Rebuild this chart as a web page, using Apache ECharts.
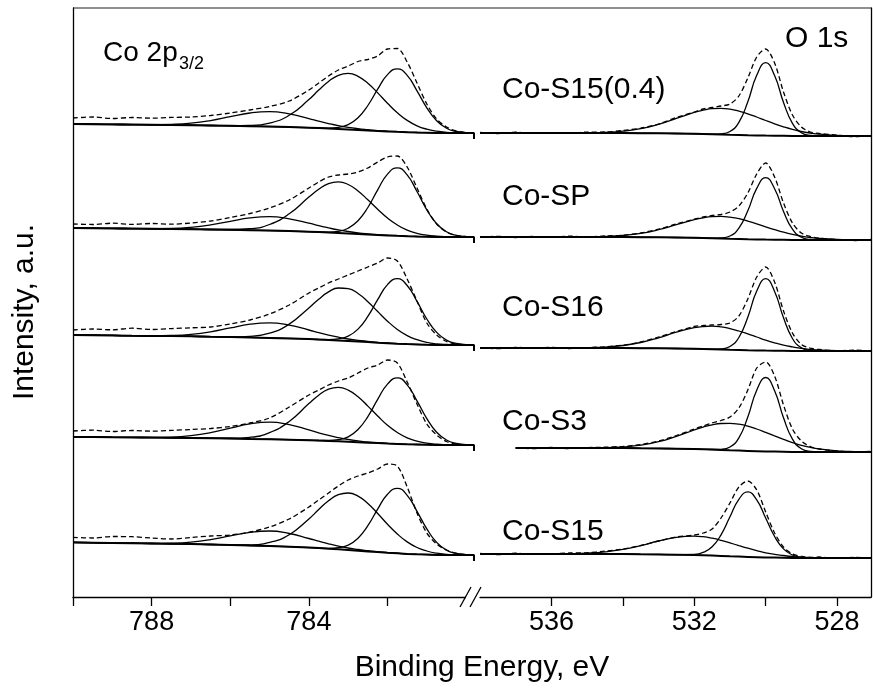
<!DOCTYPE html>
<html><head><meta charset="utf-8">
<script src="https://cdn.jsdelivr.net/npm/echarts@6/dist/echarts.min.js"></script>
<style>html,body{margin:0;padding:0;background:#fff}#c{width:873px;height:698px}</style>
</head><body><div id="c"></div>
<script>
// ---------- data ----------
const samples = ['Co-S15(0.4)', 'Co-SP', 'Co-S16', 'Co-S3', 'Co-S15'];
const coTicks = [790, 788, 786, 784, 782];
const coTickLabels = [788, 784];
const oTicks = [536, 534, 532, 530, 528];
const oTickLabels = [536, 532, 528];

// vertical offsets (intensity units) of each stacked spectrum
const coBase = [464, 360, 252, 152, 42];
const oBase = [461, 357, 246, 145, 39];
const labelY = [90, 197, 308, 422, 532];

// Co 2p3/2 binding energies
const coX = [790, 789.5, 789, 788.5, 788, 787.5, 787, 786.5, 786, 785.5, 785, 784.5, 784, 783.75, 783.5, 783.25, 783, 782.75, 782.5, 782.25, 782, 781.75, 781.5, 781.25, 781, 780.75, 780.5, 780.25, 780];
const coTailX = [779.8, 779.8];
const coTailDrop = [0, -6];

const coBg1 = [9,8.8,8.6,8.4,8.2,8,7.8,7.5,7.2,6.8,6.4,5.9,5.3,4.9,4.5,4.1,3.6,3.1,2.6,2.1,1.6,1.2,0.8,0.5,0.3,0.1,0,0,0];
const coBg2 = [9,8.8,8.6,8.4,8.2,8,7.8,7.5,7.2,6.8,6.4,5.9,5.3,4.9,4.5,4.1,3.6,3.1,2.6,2.1,1.6,1.2,0.8,0.5,0.3,0.1,0,0,0];
const coBg3 = [10,9.8,9.6,9.3,9.1,8.9,8.7,8.3,8,7.6,7.1,6.6,5.9,5.4,5,4.6,4,3.4,2.9,2.3,1.8,1.3,0.9,0.6,0.3,0.1,0,0,0];
const coBg4 = [8.1,7.9,7.7,7.6,7.4,7.2,7,6.8,6.5,6.1,5.8,5.3,4.8,4.4,4.1,3.7,3.2,2.8,2.3,1.9,1.4,1.1,0.7,0.5,0.3,0.1,0,0,0];
const coBg5 = [12.6,12.3,12,11.8,11.5,11.2,10.9,10.5,10.1,9.5,9,8.3,7.4,6.9,6.3,5.7,5,4.3,3.6,2.9,2.2,1.7,1.1,0.7,0.4,0.1,0,0,0];

const coA1 = [0,0,0,0,0,0,0,0,0,0,0,0,0,0.1,0.4,1.5,4.8,12.1,24.9,41.7,56.8,63,56.8,41.7,24.9,12.1,4.8,1.5,0.4];
const coA2 = [0,0,0,0,0,0,0,0,0,0,0,0,0,0.1,0.4,1.6,5.2,13.1,26.9,45,61.3,68,61.3,45,26.9,13.1,5.2,1.6,0.4];
const coA3 = [0,0,0,0,0,0,0,0,0,0,0,0,0,0.1,0.4,1.6,4.9,12.5,25.7,43,58.6,65,58.6,43,25.7,12.5,4.9,1.6,0.4];
const coA4 = [0,0,0,0,0,0,0,0,0,0,0,0,0,0.1,0.4,1.6,5,12.7,26.1,43.7,59.5,66,59.5,43.7,26.1,12.7,5,1.6,0.4];
const coA5 = [0,0,0,0,0,0,0,0,0,0,0,0,0,0.1,0.4,1.6,4.9,12.5,25.7,43,58.6,65,58.6,43,25.7,12.5,4.9,1.6,0.4];

const coB1 = [0,0,0,0,0,0,0,0,0.1,0.7,3.5,11.8,28.1,38,47.1,53.6,56,53.6,47.1,38,28.1,19,11.8,6.7,3.5,1.7,0.7,0.3,0.1];
const coB2 = [0,0,0,0,0,0,0,0,0.3,1.5,6.1,17.3,34.6,42.9,48.9,51,48.9,42.9,34.6,25.6,17.3,10.8,6.1,3.2,1.5,0.7,0.3,0.1,0];
const coB3 = [0,0,0,0,0,0,0,0,0.2,1.1,4.7,14.3,31.2,40.4,48.1,52.4,52.4,48.1,40.4,31.2,22,14.3,8.5,4.7,2.3,1.1,0.5,0.2,0.1];
const coB4 = [0,0,0,0,0,0,0,0,0.3,1.6,6.5,18.3,36.6,45.4,51.7,54,51.7,45.4,36.6,27.1,18.3,11.4,6.5,3.4,1.6,0.7,0.3,0.1,0];
const coB5 = [0,0,0,0,0,0,0,0,0.1,0.7,3.6,12,28.6,38.6,47.9,54.6,57,54.6,47.9,38.6,28.6,19.3,12,6.8,3.6,1.7,0.7,0.3,0.1];

const coS1 = [0,0,0,0,0.2,0.7,2,4.9,9.1,13.2,15,13.2,9.1,6.9,4.9,3.2,2,1.2,0.7,0.3,0.2,0.1,0,0,0,0,0,0,0];
const coS2 = [0,0,0,0,0.2,0.6,1.9,4.6,8.5,12.3,14,12.3,8.5,6.4,4.6,3,1.9,1.1,0.6,0.3,0.2,0.1,0,0,0,0,0,0,0];
const coS3 = [0,0,0,0,0.2,0.7,2,4.9,9.1,13.2,15,13.2,9.1,6.9,4.9,3.2,2,1.2,0.7,0.3,0.2,0.1,0,0,0,0,0,0,0];
const coS4 = [0,0,0,0,0.2,0.7,2.3,5.5,10.3,15,17,15,10.3,7.8,5.5,3.7,2.3,1.4,0.7,0.4,0.2,0.1,0,0,0,0,0,0,0];
const coS5 = [0,0,0,0,0.2,0.7,2,4.9,9.1,13.2,15,13.2,9.1,6.9,4.9,3.2,2,1.2,0.7,0.3,0.2,0.1,0,0,0,0,0,0,0];

const coE1 = [15,16,14.5,15.5,14.8,15.6,16,17.5,20,23,26.5,32,43,50,57,63,67,71.5,73.5,77,84,84.5,71,50,29,14,6,2,0.5];
const coE2 = [13,12.5,13.8,12.6,13.5,12.8,14,16,19.5,23.5,29,37,49,55,60,62,63,65,69,75,80,81,70,49,28,13,5,1.5,0.5];
const coE3 = [15,16,15.2,16.8,15.5,16.4,17.2,18,21,25,31,40,52,57,62,66,70,74,78,82,87,84,66,44,22,10,3.5,1,0.3];
const coE4 = [14,14.8,13.5,14.5,13.8,14.6,15.5,16.5,18.5,22,27,38,50,55,60,64,67,72,77,80,85,82,63,41,21,10,3.5,1,0.3];
const coE5 = [17.7,17,18.5,18.3,17,16,17.5,19,20,23,28,36,48,55,62,69,75,79,82,86,91,89,68,42,22,11,5,1.8,0.5];

// O 1s binding energies
const oX = [538, 537.5, 537, 536.5, 536, 535.5, 535, 534.5, 534, 533.5, 533, 532.5, 532, 531.75, 531.5, 531.25, 531, 530.75, 530.5, 530.25, 530, 529.75, 529.5, 529.25, 529, 528.75, 528.5, 528, 527.5, 527.05];

const oBg1 = [3,3,3,3,3,3,3,2.9,2.9,2.8,2.7,2.5,2.2,2,1.8,1.6,1.3,1.1,0.8,0.6,0.4,0.3,0.2,0.1,0,0,0,0,0,0];
const oBg2 = [3,3,3,3,3,3,3,2.9,2.9,2.8,2.7,2.5,2.2,2,1.8,1.6,1.3,1.1,0.8,0.6,0.4,0.3,0.2,0.1,0,0,0,0,0,0];
const oBg3 = [3,3,3,3,3,3,3,2.9,2.9,2.8,2.7,2.5,2.2,2,1.8,1.6,1.3,1.1,0.8,0.6,0.4,0.3,0.2,0.1,0,0,0,0,0,0];
const oBg4 = [null,null,4,4,4,4,4,3.9,3.9,3.7,3.6,3.3,2.9,2.7,2.4,2.1,1.7,1.4,1.1,0.8,0.5,0.4,0.3,0.1,0,0,0,0,0,0];
const oBg5 = [4,4,4,4,4,4,4,3.9,3.9,3.7,3.6,3.3,2.9,2.7,2.4,2.1,1.7,1.4,1.1,0.8,0.5,0.4,0.3,0.1,0,0,0,0,0,0];

const oM1 = [0,0,0,0,0,0,0,0,0,0,0,0,0,0,0.1,0.6,3.2,12.6,33.4,60.1,73,60.1,33.4,12.6,3.2,0.6,0.1,0,0,0];
const oM2 = [0,0,0,0,0,0,0,0,0,0,0,0,0,0,0.1,0.5,2.7,10.7,28.4,51,62,51,28.4,10.7,2.7,0.5,0.1,0,0,0];
const oM3 = [0,0,0,0,0,0,0,0,0,0,0,0,0,0,0.1,0.5,3.2,12.4,33,59.3,72,59.3,33,12.4,3.2,0.5,0.1,0,0,0];
const oM4 = [null,null,0,0,0,0,0,0,0,0,0,0,0,0,0.1,0.6,3.3,12.7,33.9,60.9,74,60.9,33.9,12.7,3.3,0.6,0.1,0,0,0];
const oM5 = [0,0,0,0,0,0,0,0,0,0,0,0,0.7,2.9,8.8,21.1,39.5,57.3,65,57.3,39.5,21.1,8.8,2.9,0.7,0.1,0,0,0,0];

const oH1 = [0,0,0,0,0,0,0.2,0.7,1.9,4.5,9,15.1,21.4,23.8,25.5,26,25.5,23.8,21.4,18.4,15.1,11.9,9,6.5,4.5,3,1.9,0.7,0.2,0];
const oH2 = [0,0,0,0,0,0,0.2,0.6,1.6,3.8,7.6,12.8,18.1,20.2,21.5,22,21.5,20.2,18.1,15.6,12.8,10.1,7.6,5.5,3.8,2.5,1.6,0.6,0.2,0];
const oH3 = [0,0,0,0,0,0.1,0.3,1,2.6,5.7,10.5,16.3,21.1,22.5,23,22.5,21.1,18.9,16.3,13.4,10.5,7.9,5.7,4,2.6,1.7,1,0.3,0.1,0];
const oH4 = [null,null,0,0,0,0,0.1,0.4,1.2,3.1,6.7,12.4,19.1,22.2,24.8,26.4,27,26.4,24.8,22.2,19.1,15.7,12.4,9.3,6.7,4.6,3.1,1.2,0.4,0.1];
const oH5 = [0,0,0,0,0.1,0.3,0.8,2.2,4.7,8.7,13.4,17.4,19,18.6,17.4,15.6,13.4,11,8.7,6.6,4.7,3.3,2.2,1.4,0.8,0.5,0.3,0.1,0,0];

const oE1 = [3.5,2.5,3.8,2.7,3.4,2.6,3.9,4,5.5,7.8,12,18.5,24,27,28.5,30,32,40,58,79,87,73,44,21,9,4,2.5,0.8,-0.6,0.3];
const oE2 = [2.8,3.6,2.4,3.5,2.9,3.8,3.1,4,4.8,7,10.8,16,20.8,23,24.5,25.5,28,34,47,66,77,63,37,17,7,3.5,1.8,0.5,-0.5,0.5];
const oE3 = [3.2,2.4,3.6,2.8,3.7,2.5,3.4,4.2,5.8,9,14,19.5,24.5,25.5,26,26.5,28,35,52,74,84,69,40,18,6.5,2.8,1.5,0.2,0.9,-0.3];
const oE4 = [null,null,4.2,3.3,4.6,3.5,4.4,4.8,5.6,7.5,11,16.5,23,26,29,31.5,35,44,62,84,90,76,47,23,11,5.5,3,1,0.2,0.6];
const oE5 = [4.5,3.4,4.8,3.6,4.2,5,5.3,6.8,9,12.5,17,21,23,25,29,40,55,71,77,68,46,25,11,4,1.5,0.5,1,-0.4,0.6,0];

// ---------- build ----------
const coBg = [coBg1, coBg2, coBg3, coBg4, coBg5];
const coA = [coA1, coA2, coA3, coA4, coA5];
const coB = [coB1, coB2, coB3, coB4, coB5];
const coS = [coS1, coS2, coS3, coS4, coS5];
const coE = [coE1, coE2, coE3, coE4, coE5];
const oBg = [oBg1, oBg2, oBg3, oBg4, oBg5];
const oM = [oM1, oM2, oM3, oM4, oM5];
const oH = [oH1, oH2, oH3, oH4, oH5];
const oE = [oE1, oE2, oE3, oE4, oE5];

function pts(xs, base, parts) {
  const out = [];
  for (let i = 0; i < xs.length; i++) {
    let v = base, skip = false;
    for (const p of parts) { if (p[i] == null) { skip = true; break; } v += p[i]; }
    if (!skip) out.push([xs[i], +v.toFixed(2)]);
  }
  return out;
}
const FONT = '"Liberation Sans", Arial, sans-serif';
function ser(axis, data, kind) {
  const s = { type: 'line', xAxisIndex: axis, yAxisIndex: axis, data: data, symbol: 'none',
    silent: true, animation: false, clip: true,
    lineStyle: { color: '#000', width: 1.3 } };
  if (kind === 'bg') { s.smooth = false; s.lineStyle.width = 2; s.z = 2; }
  else if (kind === 'comp') { s.smooth = 0.5; s.z = 3; }
  else { s.smooth = 0.3; s.lineStyle.type = [5, 3]; s.lineStyle.width = 1.3; s.z = 4; }
  return s;
}
const series = [];
for (let p = 0; p < 5; p++) {
  const cb = coBase[p], ob = oBase[p];
  series.push(ser(0, pts(coX, cb, [coBg[p]]).concat(coTailX.map((x, k) => [x, cb + coTailDrop[k]])), 'bg'));
  series.push(ser(0, pts(coX, cb, [coBg[p], coA[p]]), 'comp'));
  series.push(ser(0, pts(coX, cb, [coBg[p], coB[p]]), 'comp'));
  series.push(ser(0, pts(coX, cb, [coBg[p], coS[p]]), 'comp'));
  series.push(ser(0, pts(coX, cb, [coE[p]]), 'env'));
  series.push(ser(1, pts(oX, ob, [oBg[p]]), 'bg'));
  series.push(ser(1, pts(oX, ob, [oBg[p], oM[p]]), 'comp'));
  series.push(ser(1, pts(oX, ob, [oBg[p], oH[p]]), 'comp'));
  series.push(ser(1, pts(oX, ob, [oE[p]]), 'env'));
}

function xAx(grid, min, max, ticks, labels) {
  return { type: 'value', gridIndex: grid, min: min, max: max, inverse: true, position: 'bottom',
    axisLine: { show: true, onZero: false, lineStyle: { color: '#000', width: 1.3 } },
    axisTick: { show: true, customValues: ticks, length: 9, lineStyle: { color: '#000', width: 1.3 } },
    axisLabel: { show: true, customValues: labels, fontSize: 27, color: '#000', fontFamily: FONT, margin: 12 },
    splitLine: { show: false } };
}
function yAx(grid, pos) {
  return { type: 'value', gridIndex: grid, min: 0, max: 589, position: pos,
    axisLine: { show: true, lineStyle: { color: '#000', width: 1.3 } },
    axisTick: { show: false }, axisLabel: { show: false }, splitLine: { show: false } };
}

const graphics = [
  { type: 'line', shape: { x1: 73, y1: 8, x2: 871, y2: 8 }, style: { stroke: '#222', lineWidth: 1.2 }, z: 10 },
  { type: 'rect', shape: { x: 466, y: 592, width: 9, height: 10 }, style: { fill: '#fff' }, z: 10 },
  { type: 'line', shape: { x1: 460, y1: 607, x2: 471, y2: 587 }, style: { stroke: '#000', lineWidth: 1.3 }, z: 11 },
  { type: 'line', shape: { x1: 470, y1: 607, x2: 481, y2: 587 }, style: { stroke: '#000', lineWidth: 1.3 }, z: 11 },
  { type: 'text', x: 103, y: 53, style: { text: 'Co 2p', fontSize: 28, fontFamily: FONT, fill: '#000', align: 'left', verticalAlign: 'middle' }, z: 12 },
  { type: 'text', x: 179, y: 64, style: { text: '3/2', fontSize: 18, fontFamily: FONT, fill: '#000', align: 'left', verticalAlign: 'middle' }, z: 12 },
  { type: 'text', x: 785, y: 39, style: { text: 'O 1s', fontSize: 30, fontFamily: FONT, fill: '#000', align: 'left', verticalAlign: 'middle' }, z: 12 },
  { type: 'text', x: 482, y: 668, style: { text: 'Binding Energy, eV', fontSize: 30, fontFamily: FONT, fill: '#000', align: 'center', verticalAlign: 'middle' }, z: 12 },
  { type: 'text', x: 25, y: 312, rotation: Math.PI / 2, style: { text: 'Intensity, a.u.', fontSize: 30, fontFamily: FONT, fill: '#000', align: 'center', verticalAlign: 'middle' }, z: 12 }
];
samples.forEach((s, i) => {
  graphics.push({ type: 'text', x: 502, y: labelY[i], style: { text: s, fontSize: 30, fontFamily: FONT, fill: '#000', align: 'left', verticalAlign: 'middle' }, z: 12 });
});

const chart = echarts.init(document.getElementById('c'), null, { renderer: 'canvas' });
chart.setOption({
  animation: false,
  backgroundColor: '#fff',
  grid: [
    { left: 73, top: 8, width: 401, height: 589 },
    { left: 480, top: 8, width: 391, height: 589 }
  ],
  xAxis: [xAx(0, 779.8, 790, coTicks, coTickLabels), xAx(1, 527.05, 538, oTicks, oTickLabels)],
  yAxis: [yAx(0, 'left'), yAx(1, 'right')],
  series: series,
  graphic: graphics
});
</script></body></html>
